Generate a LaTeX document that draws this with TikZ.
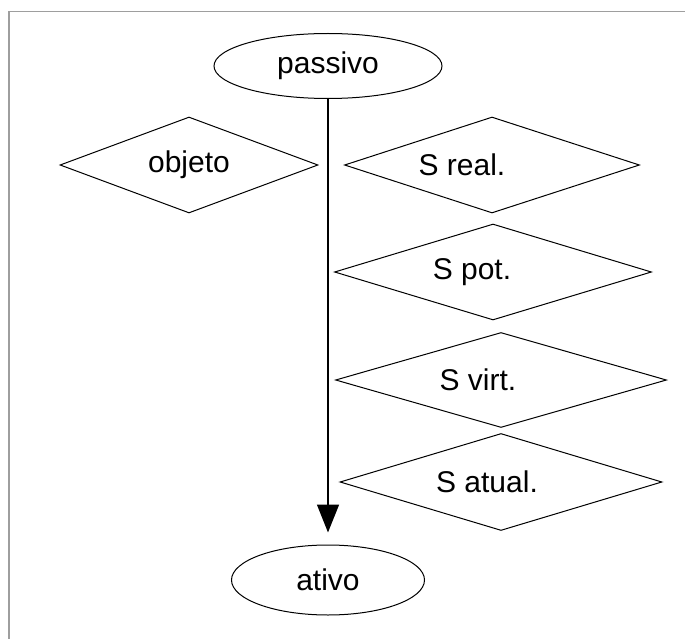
\documentclass[tikz,border=0pt]{standalone}
\usepackage{fontspec}
\setmainfont{Liberation Sans}
\usetikzlibrary{shapes.geometric,arrows.meta}

\begin{document}
\begin{tikzpicture}[x=1pt, y=-1pt,
            every node/.style = {draw, line width=1pt, inner sep=0pt, font=\fontsize{30}{36}\selectfont},
            estado/.style = {ellipse},
            losango/.style = {diamond, aspect=3, minimum height=96pt},
            seta/.style = {-{Triangle[length=28pt, width=22pt]}, line width=1.5pt, shorten >=12pt}]
            \useasboundingbox (0,0) rectangle (685,639);
            \draw[black!38, line width=1.5pt] (685,11.5) -- (9,11.5) -- (9,639);
            \node[estado, minimum width=228pt, minimum height=65pt] (passivo) at (328,66) {passivo};
            \node[estado, minimum width=193pt, minimum height=70pt] (ativo) at (328,580) {ativo};
            \node[losango, minimum width=258pt] (objeto) at (189,165) {objeto};
            \node[losango, minimum width=295pt] (sreal) at (492,165) {S real.\hspace*{60pt}};
            \node[losango, minimum width=317pt] (spot) at (493,272) {S pot.\hspace*{42pt}};
            \node[losango, minimum width=331pt, minimum height=95pt] (svirt) at (501,380) {S virt.\hspace*{46pt}};
            \node[losango, minimum width=322pt, minimum height=97pt] (satual) at (501,482) {S atual.\hspace*{28pt}};
            \draw[seta] (passivo) -- (ativo);
\end{tikzpicture}
\end{document}
